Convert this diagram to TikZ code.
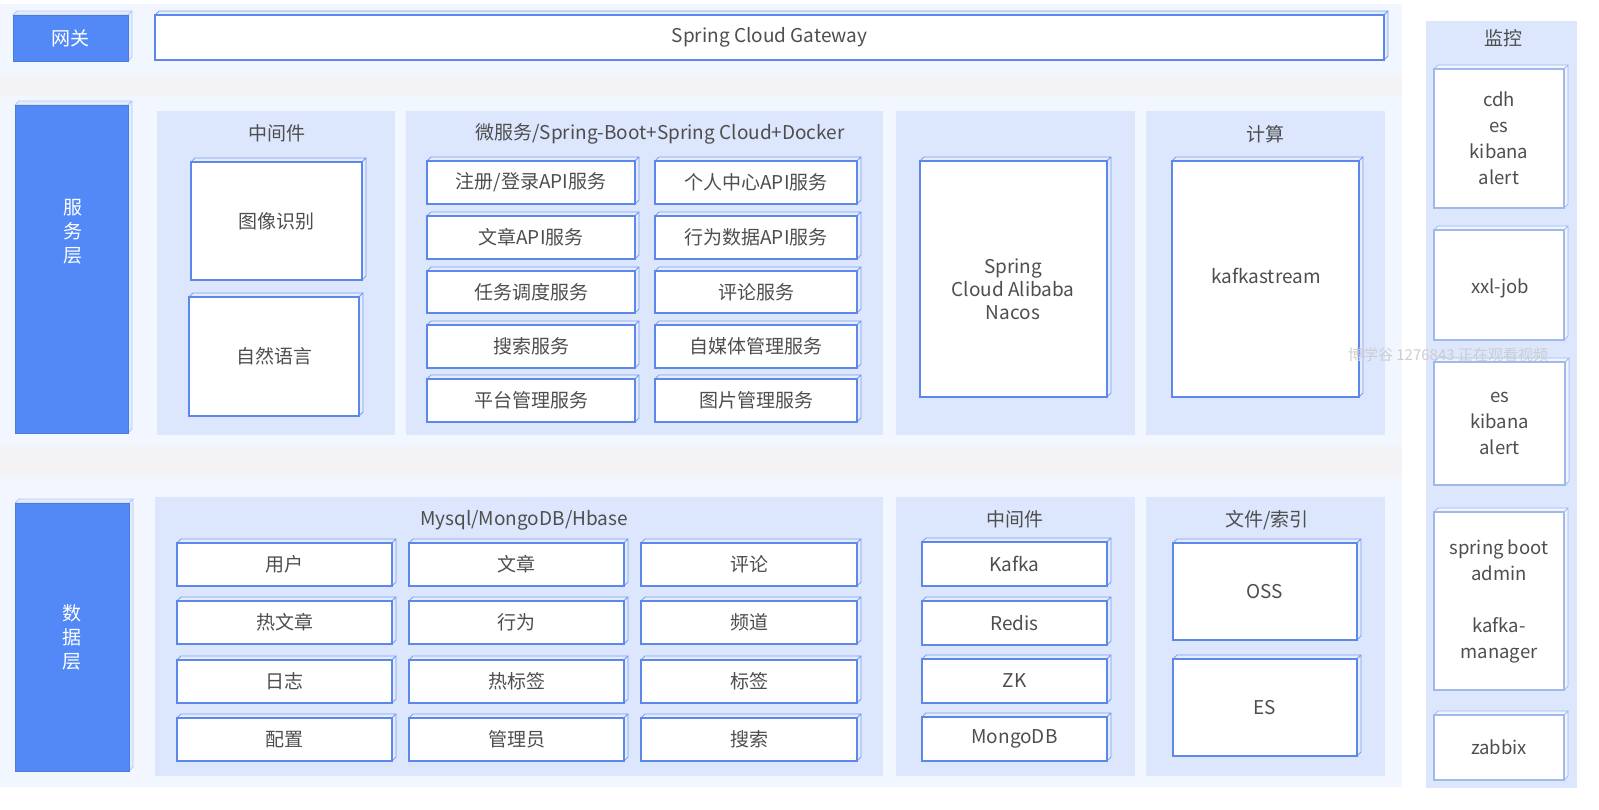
\documentclass[tikz,border=0pt]{standalone}
\usepackage{fontspec}
\setmainfont{Noto Sans CJK SC}
\definecolor{bgc}{RGB}{242,246,254}
\definecolor{bandc}{RGB}{243,243,246}
\definecolor{panelc}{RGB}{220,230,252}
\definecolor{bluec}{RGB}{82,137,246}
\definecolor{linec}{RGB}{92,135,235}
\definecolor{sidec}{RGB}{228,236,253}
\definecolor{monline}{RGB}{160,185,235}
\definecolor{txtc}{RGB}{78,78,78}
\definecolor{wmc}{RGB}{205,205,210}
\tikzset{
  panel/.style={fill=panelc, draw=none, inner sep=0pt},
  ptitle/.style={text=txtc, font=\fontsize{19}{23}\selectfont, inner sep=0pt},
  plaintext/.style={text=txtc, align=center, inner sep=0pt},
  cubeside/.style={fill=sidec, draw=linec!80, line width=0.8pt, line join=round},
  cubefront/.style={fill=white, draw=linec, line width=1.3pt, inner sep=0pt, align=center,
    text=txtc, font=\fontsize{19}{23}\selectfont},
  layerbox/.style={fill=bluec, draw=bluec!90!black, line width=0.6pt, text=white},
  monbox/.style={draw=monline, line width=1.1pt, font=\fontsize{18.5}{26}\selectfont},
}
\newcommand\cubebox[7][]{%
  \path[cubeside] (#3,#4) -- ({#3+4},{#4-4}) -- ({#5+4},{#4-4}) -- (#5,#4) -- cycle;
  \path[cubeside] (#5,#4) -- ({#5+4},{#4-4}) -- ({#5+4},{#6-4}) -- (#5,#6) -- cycle;
  \node[cubefront,#1,minimum width={(#5-#3)*1pt},minimum height={(#6-#4)*1pt}] (#2) at ({(#3+#5)/2},{(#4+#6)/2}) {#7};
}
\newcommand\panelbox[5]{%
  \node[panel,minimum width={(#4-#2)*1pt},minimum height={(#5-#3)*1pt}] (#1) at ({(#2+#4)/2},{(#3+#5)/2}) {};
}
\begin{document}
\begin{tikzpicture}[x=1pt,y=-1pt]
\useasboundingbox (0,0) rectangle (1599,809);
\fill[white] (0,0) rectangle (1599,809);
% backgrounds
\fill[bgc] (0,4) rectangle (1402,787);
\fill[bandc] (0,75) rectangle (1402,96);
\fill[bandc] (0,447) rectangle (1402,477);

% panels
\panelbox{pmid}{157}{111}{395}{435}
\panelbox{pms}{406}{111}{883}{435}
\panelbox{pnac}{896}{111}{1135}{435}
\panelbox{pcalc}{1146}{111}{1385}{435}
\panelbox{pdb}{155}{497}{883}{776}
\panelbox{pdmid}{896}{497}{1135}{776}
\panelbox{pfile}{1146}{497}{1385}{776}
\panelbox{pmon}{1426}{21}{1577}{788}

% titles
\node[ptitle] (tmid) at (277,133) {中间件};
\node[ptitle] (tms) at (660,134) {微服务/Spring-Boot+Spring Cloud+Docker};
\node[ptitle] (tcalc) at (1265,134) {计算};
\node[ptitle] (tdb) at (524,520) {Mysql/MongoDB/Hbase};
\node[ptitle] (tdmid) at (1015,519) {中间件};
\node[ptitle] (tfile) at (1267,520) {文件/索引};
\node[ptitle] (tmon) at (1503,38) {监控};

% layer boxes
\begin{scope}[cubeside/.style={fill=sidec, draw=bluec!45, line width=0.8pt, line join=round}]
\cubebox[layerbox]{gw}{13}{15}{128}{61}{网关}
\cubebox[layerbox]{svc}{15}{105}{128}{433}{}
\cubebox[layerbox]{dat}{15}{503}{129}{771}{数\\[1pt]据\\[1pt]层}
\end{scope}
\node[plaintext, text=white, font=\fontsize{19}{23}\selectfont] (svct) at (73,232) {服\\[1pt]务\\[1pt]层};

% gateway
\cubebox{scg}{155}{15}{1384}{60}{Spring Cloud Gateway}

% service middleware
\cubebox{img}{191}{162}{362}{280}{图像识别}
\cubebox{nlp}{189}{297}{359}{416}{自然语言}

% microservices
\cubebox{s1}{427}{161}{635}{204}{注册/登录API服务}
\cubebox{s2}{655}{161}{857}{204}{个人中心API服务}
\cubebox{s3}{427}{216}{635}{259}{文章API服务}
\cubebox{s4}{655}{216}{857}{259}{行为数据API服务}
\cubebox{s5}{427}{271}{635}{313}{任务调度服务}
\cubebox{s6}{655}{271}{857}{313}{评论服务}
\cubebox{s7}{427}{325}{635}{368}{搜索服务}
\cubebox{s8}{655}{325}{857}{368}{自媒体管理服务}
\cubebox{s9}{427}{379}{635}{422}{平台管理服务}
\cubebox{s10}{655}{379}{857}{422}{图片管理服务}

% nacos and compute
\cubebox{nacos}{920}{161}{1107}{397}{}
\node[plaintext, font=\fontsize{19}{23}\selectfont] (nacost) at (1013,289) {Spring\\Cloud Alibaba\\Nacos};
\cubebox{kstream}{1172}{161}{1359}{397}{}
\node[plaintext, font=\fontsize{19}{23}\selectfont] (kst) at (1266,276) {kafkastream};

% data grid
\cubebox{d1}{177}{543}{392}{586}{用户}
\cubebox{d2}{409}{543}{624}{586}{文章}
\cubebox{d3}{641}{543}{857}{586}{评论}
\cubebox{d4}{177}{601}{392}{644}{热文章}
\cubebox{d5}{409}{601}{624}{644}{行为}
\cubebox{d6}{641}{601}{857}{644}{频道}
\cubebox{d7}{177}{660}{392}{703}{日志}
\cubebox{d8}{409}{660}{624}{703}{热标签}
\cubebox{d9}{641}{660}{857}{703}{标签}
\cubebox{d10}{177}{718}{392}{761}{配置}
\cubebox{d11}{409}{718}{624}{761}{管理员}
\cubebox{d12}{641}{718}{857}{761}{搜索}

% data middleware
\cubebox{kafka}{922}{542}{1107}{586}{Kafka}
\cubebox{redis}{922}{601}{1107}{645}{Redis}
\cubebox{zk}{922}{659}{1107}{703}{ZK}
\cubebox{mongo}{922}{717}{1107}{761}{MongoDB}

% files
\cubebox{oss}{1173}{543}{1357}{640}{OSS}
\cubebox{es}{1173}{659}{1357}{756}{ES}

% monitoring
\begin{scope}[cubeside/.style={fill=sidec!60, draw=monline, line width=0.7pt, line join=round}]
\cubebox[monbox]{m1}{1434}{69}{1564}{208}{cdh\\es\\kibana\\alert}
\cubebox[monbox]{m2}{1434}{230}{1564}{340}{}
\cubebox[monbox]{m3}{1434}{362}{1565}{485}{es\\kibana\\alert}
\cubebox[monbox]{m4}{1434}{512}{1564}{690}{spring boot\\admin\\[26pt]kafka-\\manager}
\cubebox[monbox]{m5}{1434}{715}{1564}{780}{zabbix}
\end{scope}
\node[plaintext, font=\fontsize{18.5}{26}\selectfont] (m2t) at (1500,288) {xxl-job};

% watermark
\node[text=wmc, font=\fontsize{15}{17}\selectfont, inner sep=0pt] (wm) at (1448,355) {博学谷 1276843 正在观看视频};
\end{tikzpicture}
\end{document}
